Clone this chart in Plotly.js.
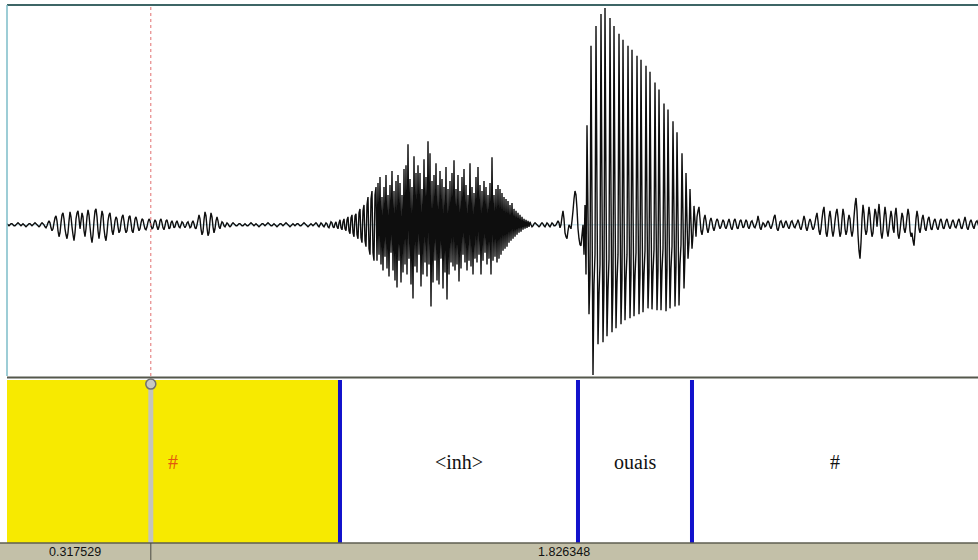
<!DOCTYPE html>
<html><head><meta charset="utf-8">
<script src="https://cdn.plot.ly/plotly-3.0.1.min.js"></script>
<style>html,body{margin:0;padding:0;background:#fff;overflow:hidden}#chart{width:978px;height:560px}</style>
</head><body><div id="chart"></div>
<script>
// ---- data ----
const TOTAL_DURATION = 2.143877;          // seconds shown in window
const CURSOR_TIME = 0.317529;             // cursor position (s)
const SAMPLE_STEPS = 971;                 // sample steps across the window
const TIER_BOUNDARIES = [0, 0.7352, 1.2607, 1.5124, 2.143877];
const TIER_LABELS = ['#', '<inh>', 'ouais', '#'];
const SELECTED_INTERVAL = 0;
// waveform amplitude samples (arbitrary units, + = up), one per step
const WAVE_SAMPLES = [
1,0,-1,0,1,1,0,-1,-1,0,
1,2,1,0,-1,0,1,0,-1,-2,
-1,0,1,1,0,-1,0,1,2,1,
0,-1,-2,-1,1,2,1,0,-2,-3,
-1,2,4,2,-3,-6,-4,2,7,9,
4,-6,-12,-8,2,10,12,6,-4,-10,
-14,-8,4,13,8,-2,-10,-16,-8,6,
12,14,6,-4,4,12,8,-6,-12,-4,
8,15,10,-2,-12,-18,-10,4,14,16,
8,-6,-14,-6,6,14,10,-4,-12,-16,
-8,4,10,12,4,-6,-10,-4,4,8,
6,-2,-8,-6,2,8,10,4,-4,-8,
-6,2,8,9,2,-6,-8,-2,6,8,
4,-2,-6,-4,2,6,5,0,-4,-5,
-2,3,6,4,-1,-4,-3,2,5,3,
-2,-5,-2,4,6,2,-3,-5,-1,4,
5,1,-4,-3,2,4,1,-3,-2,2,
4,1,-2,-3,0,3,2,-1,-3,-1,
2,3,0,-3,-2,2,4,1,-3,-4,
0,5,10,6,-4,-10,-7,5,13,9,
-3,-11,-8,4,12,8,-2,-8,-4,4,
8,4,-2,-4,0,3,2,-1,-2,0,
2,1,-1,-2,-1,1,2,1,0,-1,
-1,0,1,1,0,-1,-1,0,1,0,
-1,-1,0,1,2,1,0,-1,0,1,
0,-1,-2,-1,0,1,1,0,-1,0,
1,2,1,0,-1,-1,0,1,0,-1,
-2,-1,0,1,1,0,-1,0,1,2,
1,0,-1,-2,-1,0,1,0,-1,0,
1,1,0,-1,-1,0,1,2,1,0,
-1,-2,-1,0,1,0,-1,0,1,2,
1,-1,-2,0,2,1,-1,-2,0,2,
1,-2,-3,0,3,2,-2,-3,1,3,
-2,-4,2,5,-3,-5,3,6,-4,-6,
5,8,-6,-9,7,10,-8,-12,9,11,
-10,-14,12,16,-13,-18,14,20,-16,-22,
20,28,-24,-30,26,34,-28,-36,30,38,
-36,42,-30,48,-40,28,-46,38,-32,50,
-44,30,-52,40,-28,54,-46,34,-56,44,
-63,50,-36,42,-58,30,-48,56,-40,60,
-50,81,-34,46,-60,38,-74,69,-42,52,
-48,60,-30,52,-62,36,-50,66,-38,48,
-52,84,-40,72,-82,44,-58,50,-36,62,
-56,40,-60,54,-34,46,-64,38,-48,58,
-75,36,-50,44,-38,52,-42,65,-46,36,
-40,50,-57,34,-44,48,-30,56,-38,40,
-46,30,-36,62,-42,38,-50,32,-34,48,
-38,58,-30,40,-50,34,-36,44,-28,38,
-40,30,-34,42,-50,68,-36,30,-32,36,
-38,40,-34,36,-30,32,-26,28,-24,26,
-22,24,-18,20,-16,22,-14,16,-12,14,
-10,12,-8,10,-7,8,-5,6,-4,5,
-3,4,-2,3,0,-2,-1,1,2,1,
0,-1,-2,-1,1,2,1,-1,-2,0,
2,1,-1,-2,0,2,1,-1,-1,0,
2,4,2,-3,0,8,14,6,-8,-12,
-14,-6,0,-2,-4,4,14,26,34,30,
16,-4,-14,-20,-21,-10,0,-30,20,-50,
100,10,-90,-50,180,20,-151,-60,-30,200,
30,-120,-70,-40,212,30,-118,-60,218,40,
-112,-65,-35,208,30,-108,-60,200,25,-104,
-58,-30,192,25,-100,-55,186,22,-96,-55,
-30,180,20,-94,-50,176,20,-92,-52,-28,
170,18,-90,-50,166,16,-88,-50,-26,160,
15,-84,-48,154,14,-85,-48,-25,143,12,
-86,-46,136,12,-86,-46,-24,122,10,-87,
-45,116,10,-84,-44,-22,104,8,-82,-42,
93,8,-81,-40,-20,72,6,-64,-30,52,
4,-34,-18,36,2,-24,-10,19,4,-12,
8,14,18,6,-6,-10,-4,6,10,4,
-4,-8,-3,4,7,3,-3,-6,-2,3,
6,4,-1,-4,-2,2,5,3,-2,-4,
-1,3,6,2,-3,-5,-1,4,6,2,
-3,-4,0,4,5,1,-3,-2,2,5,
3,-2,-4,-1,3,4,1,-2,-3,0,
3,9,4,-3,-5,-1,2,1,-2,-1,
2,4,2,-2,-4,-1,3,8,10,3,
-4,-6,-2,3,4,1,-3,-2,2,4,
1,-2,-4,-1,3,4,1,-2,-3,0,
2,5,2,-3,-5,-1,4,9,5,-3,
-6,-2,3,6,3,-2,-5,-3,2,8,
12,4,-6,-10,-4,6,14,18,6,-8,
-12,-4,8,14,6,-6,-12,-6,4,12,
16,8,-4,-12,-8,6,16,10,-4,-10,
-6,4,10,6,-6,-12,-6,8,20,27,
14,-10,-26,-34,-18,6,20,12,-4,-10,
-6,8,18,10,-4,-12,-8,6,16,12,
-2,10,21,8,-8,-14,-6,8,18,10,
-6,-12,-4,6,14,8,-4,-8,10,17,
6,-10,-14,-6,4,12,8,-4,-8,-2,
8,16,10,-6,-12,-8,-16,-21,-8,6,
14,8,-4,-8,-2,6,10,4,-4,-6,
0,6,8,2,-4,-5,0,4,6,2,
-3,-5,-1,4,6,2,-3,-4,0,4,
6,2,-2,-4,-1,3,5,2,-2,-3,
0,4,6,2,-3,-4,0,4,8,3,
-3,-5,-1,3,5,2,-2,-4,0,3,
4,1,-2,-1,0,0,0,0,0,0
];
const WAVE_RANGE = [-152, 221];

// ---- build ----
const dt = TOTAL_DURATION / SAMPLE_STEPS;
const times = WAVE_SAMPLES.map((_, i) => i * dt);

const waveTrace = {
  type: 'scatter', mode: 'lines', x: times, y: WAVE_SAMPLES,
  xaxis: 'x', yaxis: 'y',
  line: {color: '#0e0e0e', width: 1.4, simplify: false},
  hoverinfo: 'skip', showlegend: false
};

const esc = s => s.replace(/&/g,'&amp;').replace(/</g,'&lt;').replace(/>/g,'&gt;');

const PLOT_H = 538; // plot area height in px (560 - 5 - 17)
const statusBottom = -17 / PLOT_H;
const leftPaper = -7 / 971;
const cursorFrac = CURSOR_TIME / TOTAL_DURATION;

const shapes = [];
// zero line
shapes.push({type:'line', xref:'x', yref:'y', x0:0, x1:TOTAL_DURATION, y0:0, y1:0,
  line:{color:'#b7dbe6', width:1}, layer:'below'});
// selected interval fill
shapes.push({type:'rect', xref:'x2', yref:'y2 domain',
  x0:TIER_BOUNDARIES[SELECTED_INTERVAL], x1:TIER_BOUNDARIES[SELECTED_INTERVAL+1], y0:0, y1:1,
  fillcolor:'#f7ea00', line:{width:0}, layer:'below'});
// interval boundaries
for (let k = 1; k < TIER_BOUNDARIES.length - 1; k++) {
  shapes.push({type:'line', xref:'x2', yref:'y2 domain', x0:TIER_BOUNDARIES[k], x1:TIER_BOUNDARIES[k],
    y0:0, y1:1, line:{color:'#1212cc', width:4}});
}
// cursor in tier
shapes.push({type:'line', xref:'x2', yref:'y2 domain', x0:CURSOR_TIME, x1:CURSOR_TIME, y0:0, y1:1,
  line:{color:'#c4c4bc', width:5}});
// cursor in waveform (red dotted)
shapes.push({type:'line', xref:'x', yref:'y domain', x0:CURSOR_TIME, x1:CURSOR_TIME, y0:0, y1:1,
  line:{color:'#e27070', width:1, dash:'dot'}});
// waveform frame
shapes.push({type:'line', xref:'paper', yref:'paper', x0:0, x1:1, y0:1, y1:1, line:{color:'#3d6566', width:2}});
shapes.push({type:'line', xref:'paper', yref:'y domain', x0:0, x1:0, y0:0, y1:1, line:{color:'#7dbdc9', width:1.5}});
// separator between waveform and tier
shapes.push({type:'line', xref:'paper', yref:'paper', x0:0, x1:1, y0:165.5/PLOT_H, y1:165.5/PLOT_H, line:{color:'#55584c', width:2}});
// cursor knob
shapes.push({type:'circle', xref:'x2', yref:'y2 domain', xsizemode:'pixel', ysizemode:'pixel',
  xanchor:CURSOR_TIME, yanchor:0.975, x0:-5, x1:5, y0:-5, y1:5,
  line:{color:'#6f6f6f', width:1.5}, fillcolor:'#c8c8c0'});
// status bar
shapes.push({type:'rect', xref:'paper', yref:'paper', x0:leftPaper, x1:1, y0:statusBottom, y1:0,
  fillcolor:'#c3c0a8', line:{width:0}});
shapes.push({type:'line', xref:'paper', yref:'paper', x0:leftPaper, x1:1, y0:0, y1:0, line:{color:'#5e5e50', width:1.5}});
shapes.push({type:'line', xref:'paper', yref:'paper', x0:cursorFrac, x1:cursorFrac, y0:statusBottom, y1:0, line:{color:'#4a4a42', width:1}});

const annotations = [];
for (let k = 0; k < TIER_LABELS.length; k++) {
  annotations.push({xref:'x2', yref:'y2', x:(TIER_BOUNDARIES[k]+TIER_BOUNDARIES[k+1])/2, y:0.5,
    text: esc(TIER_LABELS[k]), showarrow:false, xanchor:'center', yanchor:'middle',
    font:{family:'Liberation Serif, Times New Roman, serif', size:20,
      color: k === SELECTED_INTERVAL ? '#e2580f' : '#111'}});
}
const leftDur = (CURSOR_TIME - TIER_BOUNDARIES[0]).toFixed(6);
const rightDur = (TOTAL_DURATION - CURSOR_TIME).toFixed(6);
annotations.push({xref:'paper', yref:'paper', x:(leftPaper+cursorFrac)/2, y:statusBottom/2, text:leftDur,
  showarrow:false, xanchor:'center', yanchor:'middle', font:{family:'Liberation Sans, Arial, sans-serif', size:12.5, color:'#111'}});
annotations.push({xref:'paper', yref:'paper', x:(cursorFrac+1)/2, y:statusBottom/2, text:rightDur,
  showarrow:false, xanchor:'center', yanchor:'middle', font:{family:'Liberation Sans, Arial, sans-serif', size:12.5, color:'#111'}});

const hidden = {showgrid:false, zeroline:false, showticklabels:false, ticks:'', showline:false, fixedrange:true};
const layout = {
  width:978, height:560,
  margin:{l:7, r:0, t:5, b:17, pad:0},
  paper_bgcolor:'#ffffff', plot_bgcolor:'rgba(0,0,0,0)',
  showlegend:false, hovermode:false,
  xaxis: Object.assign({}, hidden, {domain:[0,1], range:[0, TOTAL_DURATION], anchor:'y'}),
  yaxis: Object.assign({}, hidden, {domain:[167/PLOT_H, 1], range:WAVE_RANGE, anchor:'x'}),
  xaxis2: Object.assign({}, hidden, {domain:[0,1], range:[0, TOTAL_DURATION], anchor:'y2'}),
  yaxis2: Object.assign({}, hidden, {domain:[0, 163/PLOT_H], range:[0,1], anchor:'x2'}),
  shapes, annotations
};

Plotly.newPlot('chart', [waveTrace], layout, {staticPlot:true, displayModeBar:false});
</script>
</body></html>
